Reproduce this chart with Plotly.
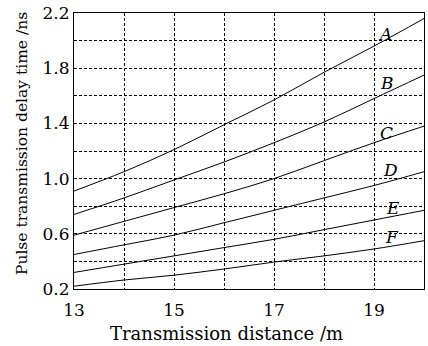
import plotly.graph_objects as go

distance = [13, 14, 15, 16, 17, 18, 19, 20]
series_A = [0.91, 1.05, 1.21, 1.39, 1.57, 1.77, 1.96, 2.16]
series_B = [0.74, 0.86, 0.99, 1.12, 1.26, 1.41, 1.58, 1.75]
series_C = [0.59, 0.69, 0.79, 0.89, 1.00, 1.13, 1.26, 1.38]
series_D = [0.45, 0.52, 0.59, 0.68, 0.77, 0.86, 0.95, 1.05]
series_E = [0.32, 0.38, 0.44, 0.50, 0.56, 0.63, 0.70, 0.77]
series_F = [0.22, 0.265, 0.30, 0.345, 0.395, 0.44, 0.49, 0.55]
curve_names = ["A", "B", "C", "D", "E", "F"]
label_x = [19.22, 19.26, 19.24, 19.32, 19.38, 19.36]
label_y = [2.05, 1.69, 1.33, 1.06, 0.79, 0.58]
x_ticks = [13, 15, 17, 19]
y_ticks = [0.2, 0.6, 1.0, 1.4, 1.8, 2.2]
y_tick_text = ["0.2", "0.6", "1.0", "1.4", "1.8", "2.2"]

fam = "DejaVu Serif"
dash = "3px,2px"
fig = go.Figure()
for name, ys in zip(curve_names, [series_A, series_B, series_C, series_D, series_E, series_F]):
    fig.add_trace(go.Scatter(x=distance, y=ys, mode="lines", name=name,
                             line=dict(color="black", width=1, shape="spline"),
                             showlegend=False))

for name, lx, ly in zip(curve_names, label_x, label_y):
    fig.add_annotation(x=lx, y=ly, text="<i>%s</i>" % name, showarrow=False,
                       font=dict(family=fam, size=17, color="black"))

fig.add_annotation(xref="paper", yref="paper", x=(226 - 74) / 350, y=-0.16,
                   xanchor="center", yanchor="middle",
                   text="Transmission distance /m", showarrow=False,
                   font=dict(family=fam, size=18, color="black"))
fig.add_annotation(xref="paper", yref="paper", x=(22 - 74) / 350, y=(289 - 144) / 276,
                   xanchor="center", yanchor="middle", textangle=-90,
                   text="Pulse transmission delay time /ns", showarrow=False,
                   font=dict(family=fam, size=15.5, color="black"))

axis_common = dict(showline=True, linecolor="black", linewidth=1.2, mirror=True,
                   showgrid=True, gridcolor="black", gridwidth=1, griddash=dash,
                   ticks="", zeroline=False,
                   tickfont=dict(family=fam, size=17, color="black"))

fig.update_xaxes(range=[13, 20], tickvals=x_ticks, ticklabelstandoff=5,
                 minor=dict(dtick=1, tick0=13, showgrid=True, gridcolor="black",
                            griddash=dash, gridwidth=1),
                 **axis_common)
fig.update_yaxes(range=[0.2, 2.2], tickvals=y_ticks, ticktext=y_tick_text,
                 minor=dict(dtick=0.2, tick0=0.2, showgrid=True, gridcolor="black",
                            griddash=dash, gridwidth=1),
                 **axis_common)

fig.update_layout(width=428, height=346,
                  margin=dict(l=74, r=4, t=13, b=57),
                  plot_bgcolor="white", paper_bgcolor="white")

fig.write_html("out.html", config={"displayModeBar": False},
               post_script="document.body.style.margin='0';")
